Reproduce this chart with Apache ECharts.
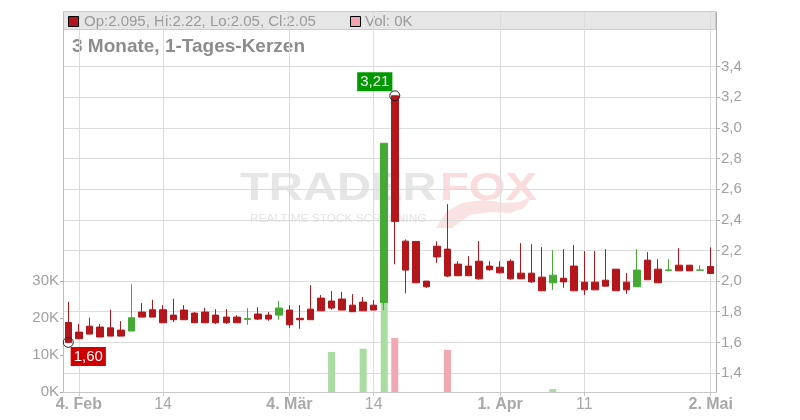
<!DOCTYPE html>
<html><head><meta charset="utf-8">
<script src="https://cdn.jsdelivr.net/npm/echarts@6/dist/echarts.min.js"></script>
<style>html,body{margin:0;padding:0;background:#fff}#c{width:800px;height:420px}</style>
</head><body><div id="c"></div>
<script>
// ---- data ----
const dates = [
 '2019-02-01','2019-02-04','2019-02-05','2019-02-06','2019-02-07','2019-02-08','2019-02-11','2019-02-12','2019-02-13','2019-02-14',
 '2019-02-15','2019-02-18','2019-02-19','2019-02-20','2019-02-21','2019-02-22','2019-02-25','2019-02-26','2019-02-27','2019-02-28',
 '2019-03-01','2019-03-04','2019-03-05','2019-03-06','2019-03-07','2019-03-08','2019-03-11','2019-03-12','2019-03-13','2019-03-14',
 '2019-03-15','2019-03-18','2019-03-19','2019-03-20','2019-03-21','2019-03-22','2019-03-25','2019-03-26','2019-03-27','2019-03-28',
 '2019-03-29','2019-04-01','2019-04-02','2019-04-03','2019-04-04','2019-04-05','2019-04-08','2019-04-09','2019-04-10','2019-04-11',
 '2019-04-12','2019-04-15','2019-04-16','2019-04-17','2019-04-18','2019-04-23','2019-04-24','2019-04-25','2019-04-26','2019-04-29',
 '2019-04-30','2019-05-02'
];
const openP = [
 1.73,1.667,1.706,1.70,1.695,1.68,1.674,1.798,1.813,1.813,
 1.778,1.811,1.791,1.798,1.778,1.765,1.765,1.750,1.785,1.778,
 1.778,1.811,1.757,1.817,1.889,1.87,1.883,1.843,1.863,1.843,
 1.86,3.21,2.261,2.259,2.0,2.228,2.209,2.111,2.098,2.13,
 2.098,2.091,2.13,2.052,2.052,2.026,1.989,2.019,2.098,1.993,
 1.993,2.006,2.078,1.993,1.963,2.137,2.078,2.070,2.104,2.104,
 2.071,2.095
];
const closeP = [
 1.60,1.624,1.654,1.635,1.641,1.641,1.761,1.765,1.765,1.728,
 1.748,1.748,1.728,1.728,1.728,1.728,1.728,1.755,1.752,1.752,
 1.824,1.715,1.748,1.748,1.806,1.824,1.811,1.80,1.806,1.811,
 2.90,2.39,2.072,1.989,1.963,2.158,2.033,2.035,2.035,2.015,
 2.074,2.054,2.015,2.015,1.995,1.937,2.039,1.995,1.937,1.943,
 1.943,1.967,1.937,1.943,2.072,2.009,1.989,2.073,2.067,2.067,
 2.073,2.05
];
const lowP = [
 1.60,1.62,1.654,1.635,1.641,1.641,1.674,1.765,1.765,1.728,
 1.733,1.748,1.728,1.728,1.72,1.72,1.728,1.715,1.746,1.741,
 1.748,1.695,1.689,1.748,1.806,1.813,1.811,1.80,1.806,1.811,
 1.81,2.11,1.92,1.989,1.956,2.119,2.026,2.035,2.035,2.009,
 2.067,2.05,2.009,2.015,1.989,1.937,1.943,1.956,1.937,1.909,
 1.943,1.967,1.937,1.917,1.963,2.009,1.989,2.063,2.067,2.067,
 2.071,2.05
];
const highP = [
 1.865,1.72,1.761,1.72,1.813,1.739,1.98,1.856,1.878,1.843,
 1.885,1.843,1.798,1.824,1.817,1.817,1.778,1.824,1.83,1.798,
 1.87,1.843,1.843,1.974,1.909,1.935,1.93,1.915,1.896,1.876,
 2.90,3.21,2.272,2.259,2.0,2.259,2.502,2.13,2.163,2.261,
 2.13,2.13,2.143,2.248,2.241,2.222,2.202,2.209,2.235,2.196,
 2.196,2.209,2.078,2.052,2.209,2.189,2.143,2.143,2.215,2.104,
 2.104,2.22
];
const volume = [
 0,0,0,0,0,0,0,0,0,0,
 0,0,0,0,0,0,0,0,0,0,
 0,0,0,0,0,10800,0,0,11700,0,
 24900,14600,0,0,0,0,11400,0,0,0,
 0,0,0,0,0,0,800,0,0,0,
 0,0,0,0,0,0,0,0,0,0,
 0,0
];
const tickIndex = [1, 9, 21, 29, 41, 49, 61];
const tickLabels = ['4. Feb', '14', '4. Mär', '14', '1. Apr', '11', '2. Mai'];
const tickBold = [true, false, true, false, true, false, true];
const volumeTicks = [0, 10000, 20000, 30000];

// ---- chart ----
const FF = '"Liberation Sans", Arial, sans-serif';
const UP = '#46a935', DOWN = '#b3161b', UPV = '#a9dca1', DOWNV = '#f2a8b0';
const GRID = '#dcdcdc';
const isTick = (i) => tickIndex.indexOf(i) >= 0;
const fmtComma = (v, d) => v.toFixed(d).replace('.', ',');

const candleData = dates.map((d, i) => [openP[i], closeP[i], lowP[i], highP[i]]);
const volData = volume.map((v, i) => ({
  value: v,
  itemStyle: { color: (i === 0 || closeP[i] >= closeP[i - 1]) ? UPV : DOWNV }
}));
const hiIdx = highP.indexOf(Math.max(...highP));
const loIdx = lowP.indexOf(Math.min(...lowP));

const L = 63, R = 84, T = 12, B = 28;
const chart = echarts.init(document.getElementById('c'), null, { renderer: 'canvas' });
chart.setOption({
  animation: false,
  backgroundColor: '#fff',
  textStyle: { fontFamily: FF },
  grid: [
    { left: L, right: R, top: T, bottom: B },
    { left: L, right: R, top: 50, bottom: B },
    { left: L, right: R, top: 281, bottom: B }
  ],
  xAxis: [
    {
      gridIndex: 0, type: 'category', data: dates, boundaryGap: true,
      axisLine: { show: true, lineStyle: { color: '#c8c8c8' } },
      axisTick: { show: true, interval: (i) => isTick(i), alignWithLabel: true, length: 4, lineStyle: { color: '#c8c8c8' } },
      axisLabel: {
        interval: (i) => isTick(i), margin: 5,
        formatter: (v, i) => { const k = tickIndex.indexOf(i); return (tickBold[k] ? '{b|' : '{n|') + tickLabels[k] + '}'; },
        rich: {
          b: { fontWeight: 'bold', fontSize: 16, color: '#a8a8a8', fontFamily: FF },
          n: { fontSize: 16, color: '#a8a8a8', fontFamily: FF }
        }
      },
      splitLine: { show: true, interval: (i) => isTick(i), alignWithLabel: true, lineStyle: { color: GRID } }
    },
    { gridIndex: 1, type: 'category', data: dates, boundaryGap: true, show: false },
    { gridIndex: 2, type: 'category', data: dates, boundaryGap: true, show: false }
  ],
  yAxis: [
    { gridIndex: 0, type: 'value', position: 'left', min: 0, max: 1,
      axisLine: { show: true, lineStyle: { color: '#bdbdbd' } }, axisTick: { show: false }, axisLabel: { show: false }, splitLine: { show: false } },
    { gridIndex: 0, type: 'value', position: 'right', min: 0, max: 1,
      axisLine: { show: true, lineStyle: { color: '#b0b0b0' } }, axisTick: { show: false }, axisLabel: { show: false }, splitLine: { show: false } },
    { gridIndex: 1, type: 'value', position: 'right', min: 1.276, max: 3.509,
      splitNumber: 10, minInterval: 0.2, maxInterval: 0.2,
      axisLine: { show: false },
      axisTick: { show: true, length: 4, lineStyle: { color: '#b0b0b0' } },
      axisLabel: { showMinLabel: false, showMaxLabel: false, margin: 5, fontSize: 15, color: '#a0a0a0', fontFamily: FF,
        formatter: (v) => fmtComma(v, 1) },
      splitLine: { show: true, showMinLine: false, showMaxLine: false, lineStyle: { color: GRID } }
    },
    { gridIndex: 2, type: 'value', position: 'left', min: volumeTicks[0], max: volumeTicks[volumeTicks.length - 1],
      interval: volumeTicks[1] - volumeTicks[0],
      axisLine: { show: false },
      axisTick: { show: true, length: 3, lineStyle: { color: '#b0b0b0' } },
      axisLabel: { margin: 4, fontSize: 15, color: '#a0a0a0', fontFamily: FF, formatter: (v) => (v / 1000) + 'K' },
      splitLine: { show: false }
    }
  ],
  series: [
    {
      type: 'bar', xAxisIndex: 2, yAxisIndex: 3, data: volData, barWidth: 7, z: 1
    },
    {
      type: 'candlestick', xAxisIndex: 1, yAxisIndex: 2, data: candleData, barWidth: 7, z: 3,
      itemStyle: { color: UP, color0: DOWN, borderColor: UP, borderColor0: DOWN, borderWidth: 1 },
      markPoint: {
        symbol: 'circle', symbolSize: 10, animation: false,
        itemStyle: { color: 'rgba(255,255,255,0)', borderColor: '#222', borderWidth: 1 },
        data: [
          { coord: [dates[hiIdx], highP[hiIdx]], value: highP[hiIdx],
            label: { show: true, position: 'inside', offset: [-20, -14], formatter: fmtComma(highP[hiIdx], 2),
              backgroundColor: '#009a00', color: '#fff', fontSize: 15, lineHeight: 16, padding: [2, 3, 1, 3], fontFamily: FF } },
          { coord: [dates[loIdx], lowP[loIdx]], value: lowP[loIdx],
            label: { show: true, position: 'inside', offset: [20, 14], formatter: fmtComma(lowP[loIdx], 2),
              backgroundColor: '#d00000', color: '#fff', fontSize: 15, lineHeight: 16, padding: [2, 3, 1, 3], fontFamily: FF } }
        ]
      }
    }
  ],
  graphic: [
    // watermark
    { type: 'text', x: 240, y: 189, scaleX: 1.21, z: -2,
      style: { text: 'TRADER', x: 0, y: 0, font: 'bold 39px ' + FF, fill: '#e6e6e6', textVerticalAlign: 'middle' } },
    { type: 'text', x: 440, y: 189, scaleX: 1.21, z: -2,
      style: { text: 'FOX', x: 0, y: 0, font: 'bold 39px ' + FF, fill: '#fbdcdc', textVerticalAlign: 'middle' } },
    { type: 'text', x: 250, y: 219, scaleX: 1.08, z: -2,
      style: { text: 'REALTIME STOCK SCREENING', x: 0, y: 0, font: '11px ' + FF, fill: '#e4e4e4', textVerticalAlign: 'middle' } },
    { type: 'polygon', z: -2,
      shape: { points: [[436, 228], [446, 212], [462, 203], [484, 200], [505, 203], [520, 202], [532, 196], [524, 208], [510, 213], [490, 212], [470, 215], [452, 228]] },
      style: { fill: '#fbe2e2' } },
    // header
    { type: 'rect', z: -1, shape: { x: 63.5, y: 11.5, width: 652, height: 18 }, style: { fill: '#e6e6e6', stroke: '#cccccc', lineWidth: 1 } },
    { type: 'rect', z: -1, shape: { x: 68.5, y: 16.5, width: 10, height: 10 }, style: { fill: DOWN, stroke: '#000', lineWidth: 1 } },
    { type: 'text', z: -1, x: 84, y: 21.5,
      style: { text: 'Op:2.095, Hi:2.22, Lo:2.05, Cl:2.05', font: '15px ' + FF, fill: '#9a9a9a', textVerticalAlign: 'middle' } },
    { type: 'rect', z: -1, shape: { x: 350.5, y: 16.5, width: 10, height: 10 }, style: { fill: '#f0a4ad', stroke: '#000', lineWidth: 1 } },
    { type: 'text', z: -1, x: 365, y: 21.5,
      style: { text: 'Vol: 0K', font: '15px ' + FF, fill: '#9a9a9a', textVerticalAlign: 'middle' } },
    { type: 'text', z: -1, x: 72, y: 47,
      style: { text: '3 Monate, 1-Tages-Kerzen', font: 'bold 19px ' + FF, fill: '#8c8c8c', textVerticalAlign: 'middle' } }
  ]
});
</script></body></html>
